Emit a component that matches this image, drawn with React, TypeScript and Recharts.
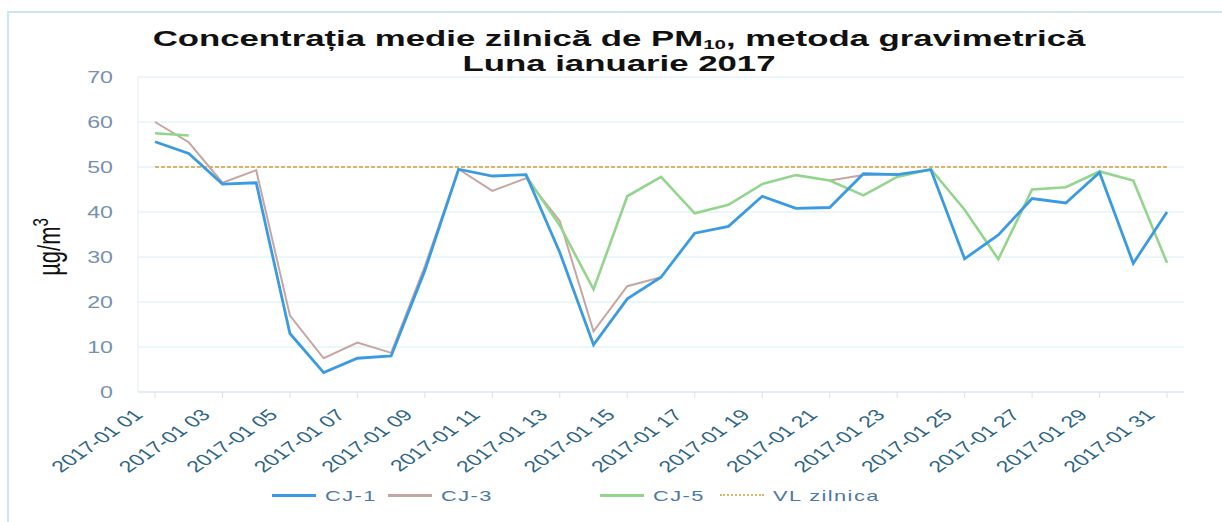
import { CartesianGrid, Legend, Line, LineChart, XAxis, YAxis } from "recharts";

const DAYS = [
  "2017-01 01", "2017-01 02", "2017-01 03", "2017-01 04", "2017-01 05", "2017-01 06", "2017-01 07", "2017-01 08",
  "2017-01 09", "2017-01 10", "2017-01 11", "2017-01 12", "2017-01 13", "2017-01 14", "2017-01 15", "2017-01 16",
  "2017-01 17", "2017-01 18", "2017-01 19", "2017-01 20", "2017-01 21", "2017-01 22", "2017-01 23", "2017-01 24",
  "2017-01 25", "2017-01 26", "2017-01 27", "2017-01 28", "2017-01 29", "2017-01 30", "2017-01 31",
];

const CJ1 = [55.6, 53, 46.2, 46.5, 13, 4.3, 7.5, 8, 27, 49.5, 48, 48.3, 31, 10.5, 20.7, 25.5, 35.3, 36.8, 43.5, 40.8, 41, 48.5, 48.3, 49.4, 29.6, 34.9, 43, 42, 48.8, 28.6, 40];
const CJ3 = [60, 55.5, 46.5, 49.3, 17, 7.5, 11, 8.7, 28, 49.5, 44.7, 47.5, 38, 13.5, 23.5, 25.5, null, null, null, null, 47, 48.2, 48.5, null, null, null, null, null, null, null, null];
const CJ5 = [57.5, 57, null, null, null, null, null, null, null, null, null, 48, 37, 22.8, 43.5, 47.8, 39.7, 41.6, 46.2, 48.2, 47, 43.7, 47.8, 49.5, 40.5, 29.5, 45, 45.5, 49, 47, 28.7];
const VL = [50, 50, 50, 50, 50, 50, 50, 50, 50, 50, 50, 50, 50, 50, 50, 50, 50, 50, 50, 50, 50, 50, 50, 50, 50, 50, 50, 50, 50, 50, 50];

const Y_TICKS = [0, 10, 20, 30, 40, 50, 60, 70];

const SERIES = [
  { key: "cj1", name: "CJ-1", color: "#3a9ae2", width: 2.8, dash: undefined },
  { key: "cj3", name: "CJ-3", color: "#c6a6a2", width: 2, dash: undefined },
  { key: "cj5", name: "CJ-5", color: "#93d58c", width: 2.6, dash: undefined },
  { key: "vl", name: "VL zilnica", color: "#d8b46c", width: 2, dash: "4 2" },
];

const data = DAYS.map((day, i) => ({ day, cj1: CJ1[i], cj3: CJ3[i], cj5: CJ5[i], vl: VL[i] }));

// the scanned picture is stretched sideways, so text gets the same stretch
const STRETCH = 1.45;
const TITLE_STRETCH = 1.58;
const FONT = "'Liberation Sans', Arial, sans-serif";
const LEGEND_LEFT = [272, 388, 600, 720];

function XTick({ x, y, payload }: any) {
  return (
    <g transform={`translate(${x - 11},${y + 16}) scale(${STRETCH},1) rotate(-45)`}>
      <text textAnchor="end" fontSize={16} fontFamily={FONT} fill="#2d6585">{payload.value}</text>
    </g>
  );
}

function YTick({ x, y, payload }: any) {
  return (
    <g transform={`translate(${x - 17},${y + 6}) scale(${STRETCH},1)`}>
      <text textAnchor="end" fontSize={16} fontFamily={FONT} fill="#7890b0">{payload.value}</text>
    </g>
  );
}

function LegendRow() {
  return (
    <div style={{ position: "relative", width: 1222, height: 26, fontFamily: FONT }}>
      {SERIES.map((s, i) => (
        <div key={s.key} style={{ position: "absolute", left: LEGEND_LEFT[i], top: 0, display: "flex", alignItems: "center", height: 26 }}>
          <span style={{ width: 44, borderTop: `${s.dash ? 2 : 3}px ${s.dash ? "dotted" : "solid"} ${s.color}`, display: "inline-block" }} />
          <span style={{ marginLeft: 9, color: "#4a78a8", fontSize: 15, transform: `scaleX(${STRETCH})`, transformOrigin: "left center", letterSpacing: 1, whiteSpace: "nowrap" }}>
            {s.name}
          </span>
        </div>
      ))}
    </div>
  );
}

export default function App() {
  return (
    <div style={{ position: "absolute", left: 0, top: 0, width: 1222, height: 522, background: "#fff", overflow: "hidden" }}>
      <div style={{ position: "absolute", left: 7, top: 11, right: 0, bottom: 0, borderTop: "2px solid #cbe6f1", borderLeft: "2px solid #cbe6f1" }} />
      <LineChart width={1222} height={522} data={data} margin={{ top: 77, right: 38, bottom: 14, left: 78 }}>
        <CartesianGrid stroke="#d6eff5" vertical={false} />
        <XAxis
          dataKey="day"
          interval={1}
          padding={{ left: 17, right: 17 }}
          tick={<XTick />}
          tickLine={{ stroke: "#d8e3ea" }}
          axisLine={{ stroke: "#d8e3ea" }}
          height={90}
        />
        <YAxis domain={[0, 70]} ticks={Y_TICKS} width={60} tick={<YTick />} tickLine={false} axisLine={{ stroke: "#e3ebf0" }} />
        <Legend wrapperStyle={{ left: 0, top: 482, width: 1222, height: 26 }} content={() => <LegendRow />} />
        <Line dataKey="vl" name="VL zilnica" stroke={SERIES[3].color} strokeWidth={2} strokeDasharray="4 2" dot={false} isAnimationActive={false} />
        <Line dataKey="cj3" name="CJ-3" stroke={SERIES[1].color} strokeWidth={2} dot={false} isAnimationActive={false} />
        <Line dataKey="cj5" name="CJ-5" stroke={SERIES[2].color} strokeWidth={2.6} dot={false} isAnimationActive={false} />
        <Line dataKey="cj1" name="CJ-1" stroke={SERIES[0].color} strokeWidth={2.8} dot={false} isAnimationActive={false} />
      </LineChart>
      <div style={{ position: "absolute", left: 0, top: 26, width: 1238, textAlign: "center", fontFamily: FONT, fontWeight: "bold", fontSize: 22, lineHeight: "25px", color: "#111", transform: `scaleX(${TITLE_STRETCH})`, transformOrigin: "619px 0" }}>
        <div>Concentrația medie zilnică de PM<sub style={{ fontSize: 13, verticalAlign: "-3px", lineHeight: 0 }}>10</sub>, metoda gravimetrică</div>
        <div>Luna ianuarie 2017</div>
      </div>
      <div style={{ position: "absolute", left: 48, top: 247, fontFamily: FONT, fontSize: 22, color: "#111", whiteSpace: "nowrap", transform: `translate(-50%, -50%) scale(${STRETCH},1) rotate(-90deg)` }}>
        µg/m<sup style={{ fontSize: 15 }}>3</sup>
      </div>
    </div>
  );
}
